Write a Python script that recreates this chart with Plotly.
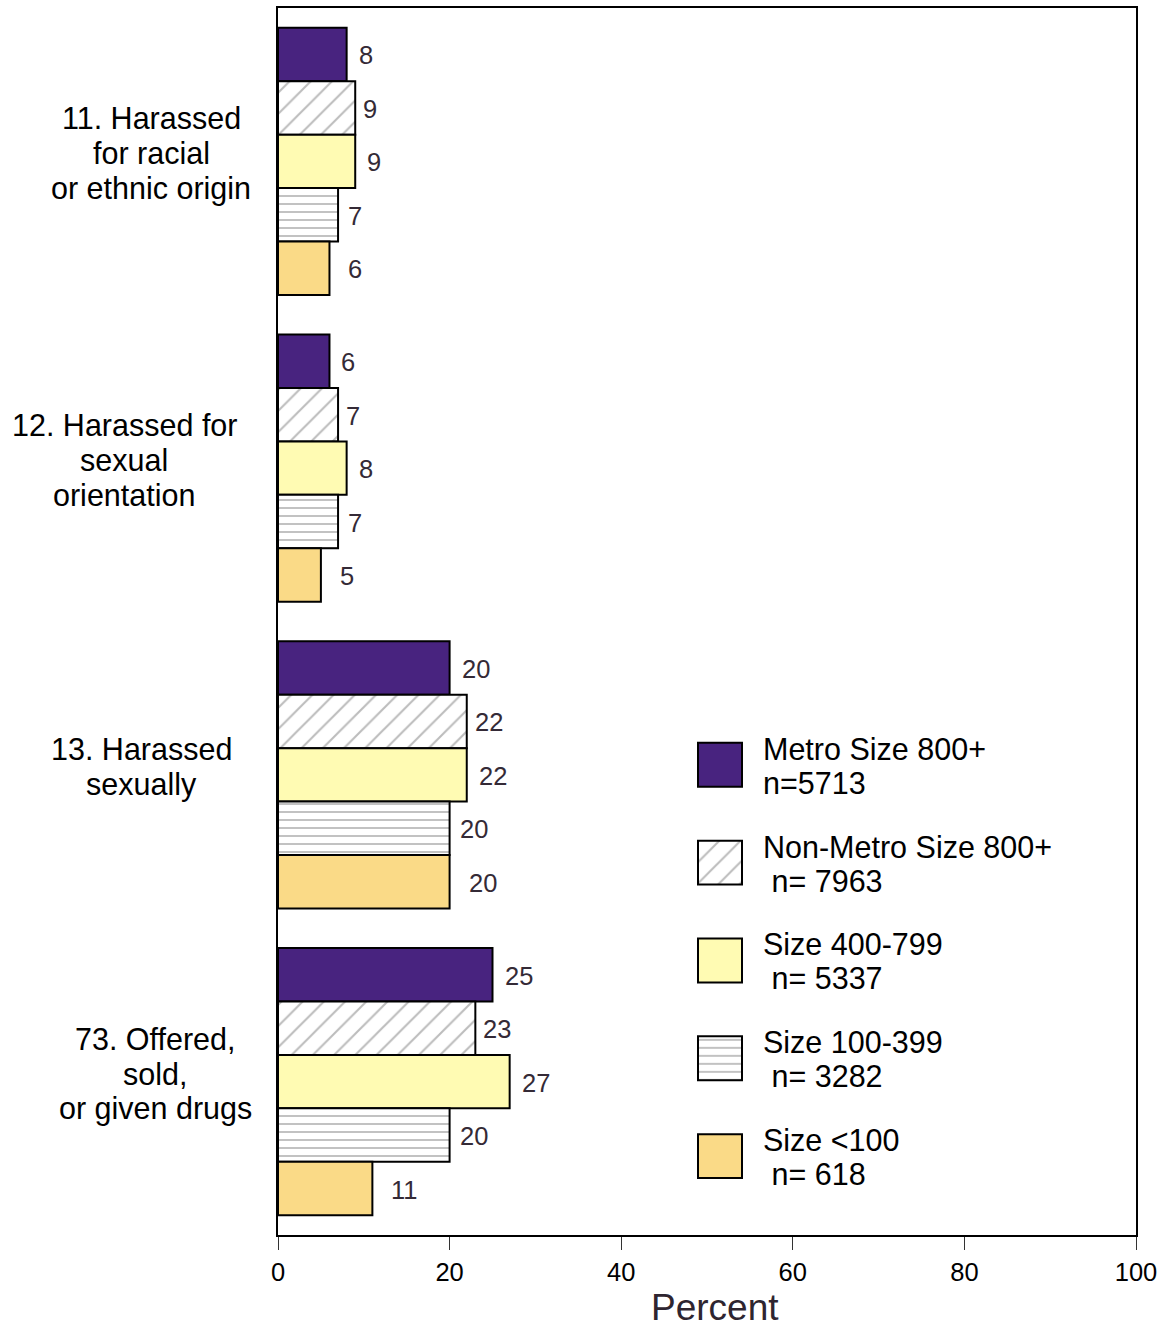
import plotly.graph_objects as go

# ---------------- data ----------------
categories = ["11", "12", "13", "73"]
category_lines = [
    ["11. Harassed", "for racial", "or ethnic origin"],
    ["12. Harassed for", "sexual", "orientation"],
    ["13. Harassed", "sexually"],
    ["73. Offered,", "sold,", "or given drugs"],
]
series_names = ["Metro Size 800+", "Non-Metro Size 800+", "Size 400-799", "Size 100-399", "Size <100"]
series_n = ["n=5713", " n= 7963", " n= 5337", " n= 3282", " n= 618"]
metro = [8, 6, 20, 25]
non_metro = [9, 7, 22, 23]
size_400_799 = [9, 8, 22, 27]
size_100_399 = [7, 7, 20, 20]
size_lt100 = [6, 5, 20, 11]
series_values = [metro, non_metro, size_400_799, size_100_399, size_lt100]
x_ticks = [0, 20, 40, 60, 80, 100]
x_title = "Percent"

# ---------------- styles ----------------
colors = ["#48237f", "#ffffff", "#fffbb3", "#ffffff", "#fada87"]
pat_shapes = ["", "/", "", "-", ""]
pat_fg = ["#000", "#7a7a7a", "#000", "#000000", "#000"]
pat_size = [10, 15, 10, 8, 10]
pat_sol = [0.2, 0.14, 0.2, 0.12, 0.2]
label_xshift = [10, 6, 10, 8, 17]
label_x_center_px = [151, 124, 141, 155]

W, H = 1164, 1331
L, R, T, B = 278, 28, 6, 96
PW, PH = W - L - R, H - T - B
FONT = "Liberation Sans, Arial, Helvetica, sans-serif"
BARGAP = 0.128
TXT = 30.5

fig = go.Figure()
for i, (name, vals) in enumerate(zip(series_names, series_values)):
    fig.add_trace(go.Bar(
        y=categories, x=vals, orientation="h", name=name,
        marker=dict(color=colors[i], line=dict(color="black", width=2),
                    pattern=dict(shape=pat_shapes[i], fgcolor=pat_fg[i], bgcolor=colors[i],
                                 size=pat_size[i], solidity=pat_sol[i], fillmode="overlay")),
        showlegend=False, hoverinfo="x+name",
    ))

annotations = []
bw = (1 - BARGAP) / len(series_names)
for i, vals in enumerate(series_values):
    off = (i - (len(series_names) - 1) / 2) * bw
    for c, v in enumerate(vals):
        annotations.append(dict(
            x=v, y=c + off, xref="x", yref="y", text=str(v), showarrow=False,
            xanchor="left", yanchor="middle", xshift=label_xshift[i], yshift=-1,
            font=dict(family=FONT, size=25.5, color="#342a36")))

# category labels
for c, lines in enumerate(category_lines):
    n = len(lines)
    for k, line in enumerate(lines):
        annotations.append(dict(
            x=(label_x_center_px[c] - L) / PW, y=c, xref="paper", yref="y",
            text=line, showarrow=False, xanchor="center", yanchor="middle",
            yshift=8 - (k - (n - 1) / 2) * 35,
            font=dict(family=FONT, size=TXT, color="black")))

# legend (inset axes)
for i in range(len(series_names)):
    fig.add_trace(go.Bar(
        y=[i], x=[1], orientation="h", xaxis="x2", yaxis="y2", width=44 / 98,
        marker=dict(color=colors[i], line=dict(color="black", width=2),
                    pattern=dict(shape=pat_shapes[i], fgcolor=pat_fg[i], bgcolor=colors[i],
                                 size=pat_size[i], solidity=pat_sol[i], fillmode="overlay")),
        showlegend=False, hoverinfo="skip",
    ))
    annotations.append(dict(x=(761 - L) / PW, y=i, xref="paper", yref="y2", text=series_names[i],
                            showarrow=False, xanchor="left", yanchor="middle", yshift=16,
                            font=dict(family=FONT, size=TXT, color="black")))
    annotations.append(dict(x=(761 - L) / PW, y=i, xref="paper", yref="y2", text=series_n[i],
                            showarrow=False, xanchor="left", yanchor="middle", yshift=-18,
                            font=dict(family=FONT, size=TXT, color="black")))

# x-axis title
annotations.append(dict(x=(715 - L) / PW, y=-(1308 - (H - B)) / PH, xref="paper", yref="paper",
                        text=x_title, showarrow=False, xanchor="center", yanchor="middle",
                        font=dict(family=FONT, size=37, color="#2e2530")))

fig.update_layout(
    width=W, height=H, margin=dict(l=L, r=R, t=T, b=B),
    paper_bgcolor="white", plot_bgcolor="white",
    barmode="group", bargap=BARGAP, bargroupgap=0,
    font=dict(family=FONT),
    xaxis=dict(range=[0, 100], tickvals=x_ticks, ticks="outside", ticklen=13, tickwidth=1,
               tickcolor="#333", showgrid=False, zeroline=False, showline=True, linecolor="black",
               linewidth=2, mirror=True, tickfont=dict(family=FONT, size=25.5, color="black")),
    yaxis=dict(autorange="reversed", showticklabels=False, ticks="", showgrid=False, zeroline=False,
               showline=True, linecolor="black", linewidth=2, mirror=True),
    xaxis2=dict(domain=[(698 - 2.2 - L) / PW, (742 + 2.2 - L) / PW], range=[-0.05, 1.05],
                visible=False, anchor="y2"),
    yaxis2=dict(domain=[(H - B - 1205) / PH, (H - B - 715) / PH], range=[4.5, -0.5],
                visible=False, anchor="x2"),
    annotations=annotations,
)

fig.write_html("out.html", config={"displayModeBar": False},
               post_script="document.body.style.margin='0';document.body.style.padding='0';")
